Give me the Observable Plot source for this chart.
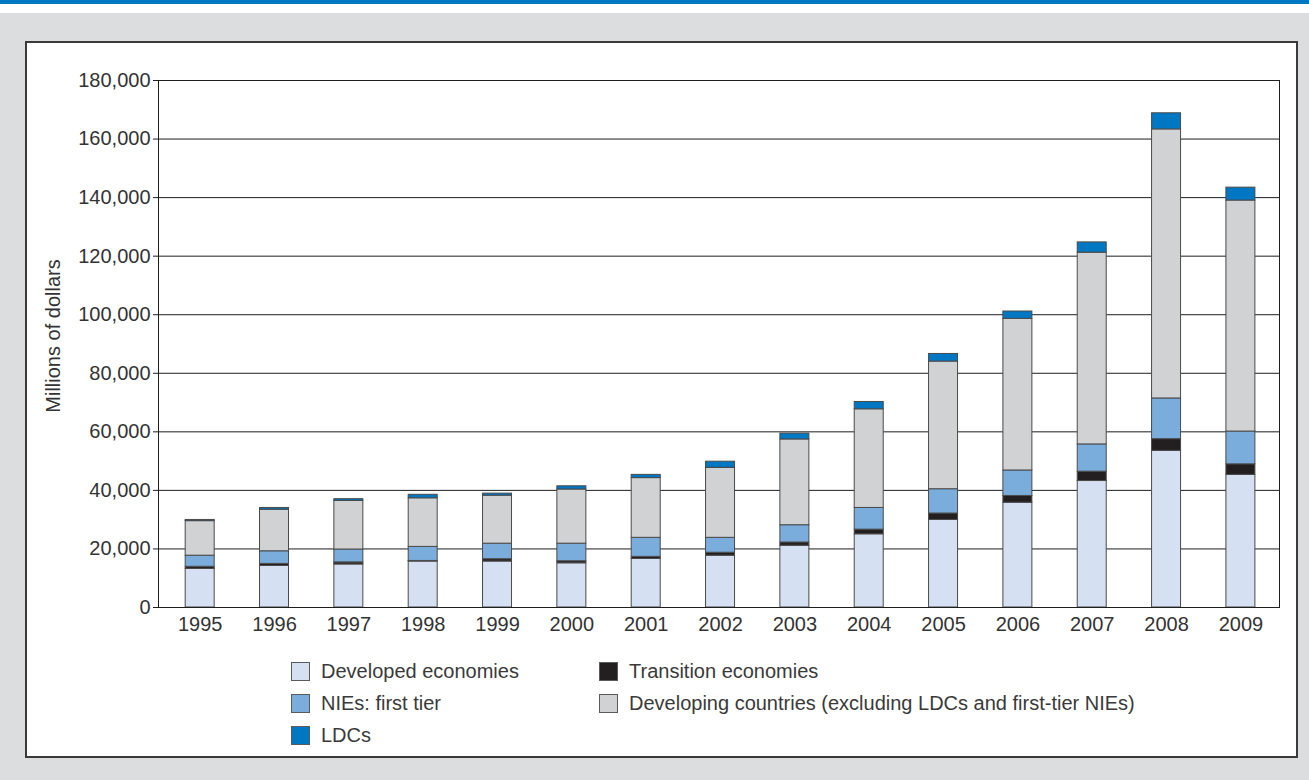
<!DOCTYPE html>
<html>
<head>
<meta charset="utf-8">
<script src="https://cdn.jsdelivr.net/npm/d3@7"></script>
<script src="https://cdn.jsdelivr.net/npm/@observablehq/plot@0.6"></script>
<style>
  html, body { margin: 0; padding: 0; }
  body { width: 1309px; height: 780px; background: #dcdddf; position: relative; overflow: hidden;
         font-family: "Liberation Sans", Arial, Helvetica, sans-serif; color: #333; }
  #band { position: absolute; left: 0; top: 0; width: 1309px; height: 4px; background: #0077c2; }
  #strip { position: absolute; left: 0; top: 4px; width: 1309px; height: 9px; background: #ffffff; }
  #panel { position: absolute; left: 25px; top: 41px; width: 1273px; height: 717px; box-sizing: border-box;
           border: 2px solid #3a3a3a; background: #fff; }
  #chart { position: absolute; left: 0; top: 0; }
  .lg { position: absolute; display: flex; align-items: center; font-size: 20px; color: #3a3a3a; white-space: nowrap; }
  .sw { width: 17px; height: 17px; border: 1px solid #5a5a5a; margin-right: 11px; }
</style>
</head>
<body>
<div id="band"></div>
<div id="strip"></div>
<div id="panel"></div>
<div id="chart"></div>
<div id="legend"></div>
<script>
const years = ["1995","1996","1997","1998","1999","2000","2001","2002","2003","2004","2005","2006","2007","2008","2009"];
const seriesNames = [
  "Developed economies",
  "Transition economies",
  "NIEs: first tier",
  "Developing countries (excluding LDCs and first-tier NIEs)",
  "LDCs"
];
const seriesColors = ["#d5e1f2", "#231f20", "#7aaddc", "#d1d2d4", "#0077c2"];
const developed  = [13200, 14200, 14700, 15700, 15700, 15100, 16600, 17700, 21100, 25000, 29900, 35800, 43200, 53500, 45300];
const transition = [700, 700, 700, 200, 800, 700, 700, 1000, 1100, 1600, 2200, 2300, 3200, 4000, 3600];
const nies       = [3800, 4300, 4400, 4800, 5300, 6000, 6500, 5100, 5900, 7400, 8300, 8700, 9300, 13900, 11200];
const developing = [11800, 14200, 16600, 16600, 16400, 18500, 20400, 23900, 29300, 33700, 43600, 51800, 65500, 91900, 78900];
const ldcs       = [400, 600, 600, 1200, 700, 1100, 1100, 2100, 2000, 2500, 2600, 2500, 3500, 5500, 4400];
const yTicks = [0, 20000, 40000, 60000, 80000, 100000, 120000, 140000, 160000, 180000];
const yLabel = "Millions of dollars";

const seriesValues = [developed, transition, nies, developing, ldcs];
const rows = [];
years.forEach((yr, i) => {
  seriesNames.forEach((s, j) => rows.push({year: yr, series: s, value: seriesValues[j][i]}));
});

const font = "'Liberation Sans', Arial, Helvetica, sans-serif";
const chart = Plot.plot({
  width: 1309,
  height: 650,
  marginLeft: 158,
  marginRight: 30,
  marginTop: 80,
  marginBottom: 43,
  style: {background: "transparent", fontFamily: font, fontSize: "20px", color: "#333"},
  x: {domain: years, paddingInner: 0.61, paddingOuter: 0.345, align: 0.53, round: false, label: null},
  y: {domain: [0, 180000], label: null},
  color: {domain: seriesNames, range: seriesColors},
  marks: [
    Plot.gridY(yTicks, {stroke: "#1e1e1e", strokeOpacity: 1, strokeWidth: 1}),
    Plot.barY(rows, {x: "year", y: "value", fill: "series", stroke: "#4a4a4a", strokeWidth: 1}),
    Plot.frame({stroke: "#1e1e1e", strokeWidth: 1}),
    Plot.axisY({ticks: yTicks, tickFormat: d3.format(","), tickSize: 5, tickPadding: 3, fontSize: 20, stroke: "#1e1e1e", fill: "#333", label: null}),
    Plot.axisX({tickSize: 0, tickPadding: 9, fontSize: 20, fill: "#333", label: null}),
    Plot.text([yLabel], {frameAnchor: "left", dx: -105, dy: -8, rotate: -90, textAnchor: "middle", text: d => d, fontSize: 20, fill: "#333", fontFamily: font})
  ]
});
document.getElementById("chart").appendChild(chart);

// legend
const legendPos = [
  {left: 291, top: 662},
  {left: 599, top: 662},
  {left: 291, top: 694},
  {left: 599, top: 694},
  {left: 291, top: 726}
];
const legendOrder = [0, 1, 2, 3, 4];
const lg = document.getElementById("legend");
legendOrder.forEach((idx, k) => {
  const d = document.createElement("div");
  d.className = "lg";
  d.style.left = legendPos[k].left + "px";
  d.style.top = legendPos[k].top + "px";
  d.style.height = "19px";
  const sw = document.createElement("div");
  sw.className = "sw";
  sw.style.background = seriesColors[idx];
  const t = document.createElement("span");
  t.textContent = seriesNames[idx];
  d.appendChild(sw);
  d.appendChild(t);
  lg.appendChild(d);
});
</script>
</body>
</html>
